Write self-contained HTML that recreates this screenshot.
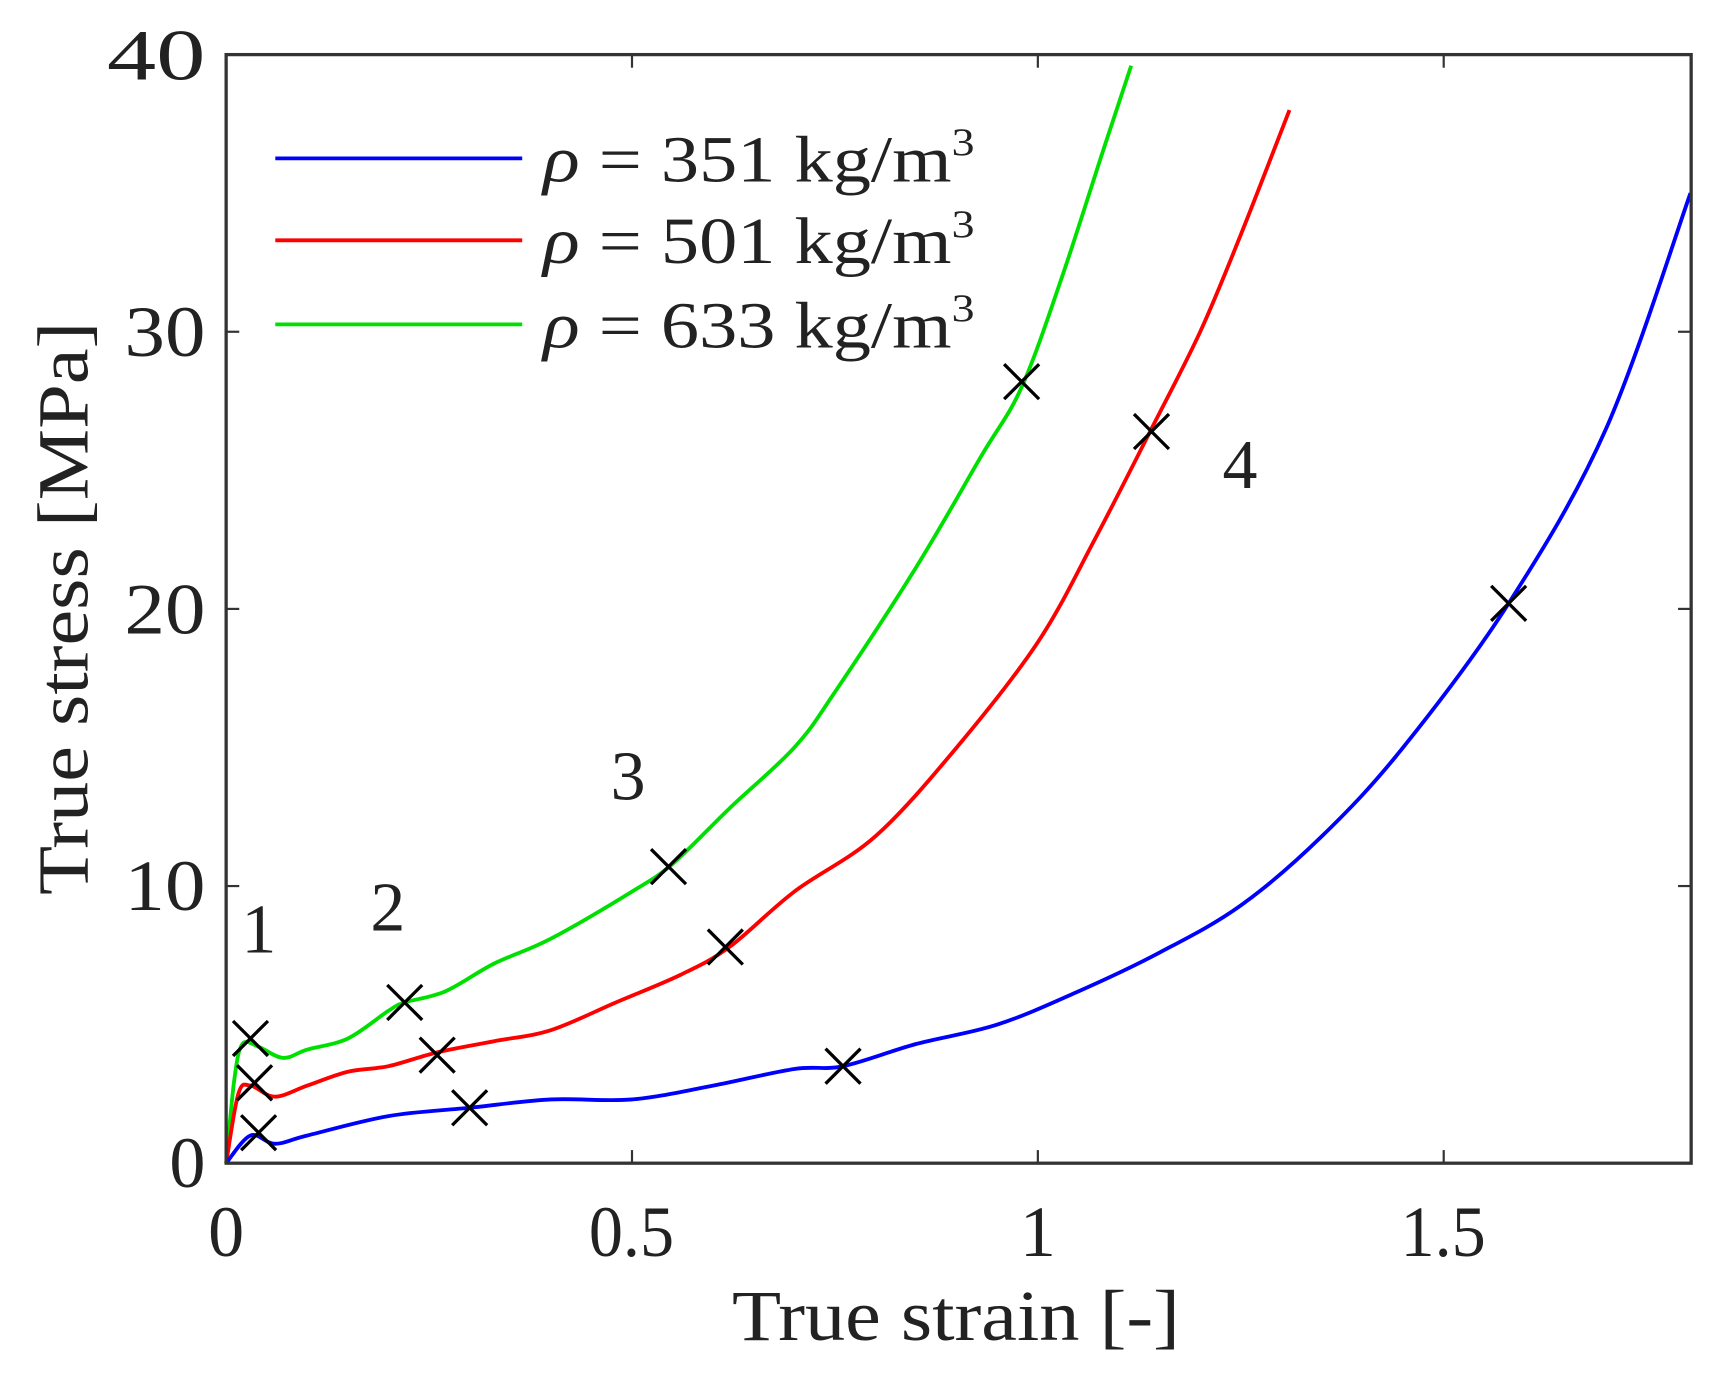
<!DOCTYPE html>
<html><head><meta charset="utf-8"><style>
html,body{margin:0;padding:0;background:#fff;}
svg{display:block;}
text{font-family:"Liberation Serif",serif;fill:#222;}
</style></head><body>
<svg id="s" width="1713" height="1386" viewBox="0 0 1568 1269" preserveAspectRatio="none" xmlns="http://www.w3.org/2000/svg">
<g id="ticks" stroke="#333" stroke-width="2"></g>
<g id="curves" fill="none" stroke-width="3.5" stroke-linejoin="round"></g>
<g id="marks" stroke="#000" stroke-width="3"></g>
<rect x="207" y="50" width="1341" height="1015" fill="none" stroke="#333" stroke-width="3"/>
<g font-size="66">
<text x="188" y="1087" text-anchor="end">0</text>
<text x="188" y="833" text-anchor="end" textLength="74" lengthAdjust="spacingAndGlyphs">10</text>
<text x="188" y="580" text-anchor="end" textLength="74" lengthAdjust="spacingAndGlyphs">20</text>
<text x="188" y="326" text-anchor="end" textLength="74" lengthAdjust="spacingAndGlyphs">30</text>
<text x="188" y="73" text-anchor="end" textLength="90" lengthAdjust="spacingAndGlyphs">40</text>
<text x="207" y="1150" text-anchor="middle">0</text>
<text x="578" y="1150" text-anchor="middle" textLength="78" lengthAdjust="spacingAndGlyphs">0.5</text>
<text x="950" y="1150" text-anchor="middle">1</text>
<text x="1321" y="1150" text-anchor="middle" textLength="78" lengthAdjust="spacingAndGlyphs">1.5</text>
</g>
<text x="875" y="1227" text-anchor="middle" font-size="66" textLength="410" lengthAdjust="spacingAndGlyphs">True strain [-]</text>
<text transform="translate(80,557) rotate(-90)" text-anchor="middle" font-size="66" textLength="525" lengthAdjust="spacingAndGlyphs">True stress [MPa]</text>
<g font-size="64">
<text x="237" y="872" text-anchor="middle">1</text>
<text x="355" y="852" text-anchor="middle">2</text>
<text x="575" y="732" text-anchor="middle">3</text>
<text x="1135" y="447" text-anchor="middle">4</text>
</g>
<g stroke-width="3.5">
<line x1="252" y1="145" x2="478" y2="145" stroke="#0000ff"/>
<line x1="252" y1="220" x2="478" y2="220" stroke="#ff0000"/>
<line x1="252" y1="297" x2="478" y2="297" stroke="#00e000"/>
</g>
<g font-size="60">
<text x="497" y="166" textLength="395" lengthAdjust="spacingAndGlyphs"><tspan font-style="italic">ρ</tspan> = 351 kg/m<tspan font-size="36" dy="-24">3</tspan></text>
<text x="497" y="241" textLength="395" lengthAdjust="spacingAndGlyphs"><tspan font-style="italic">ρ</tspan> = 501 kg/m<tspan font-size="36" dy="-24">3</tspan></text>
<text x="497" y="318" textLength="395" lengthAdjust="spacingAndGlyphs"><tspan font-style="italic">ρ</tspan> = 633 kg/m<tspan font-size="36" dy="-24">3</tspan></text>
</g>
</svg>
<script>
var X=function(x){return 207+x*743},Y=function(y){return 1065-y*25.375};
var ns="http://www.w3.org/2000/svg";
var data={
"#00e000":[[0,0],[0.01,3],[0.02,4.3],[0.04,4.2],[0.07,3.8],[0.1,4.1],[0.15,4.5],[0.2,5.5],[0.22,5.8],[0.27,6.2],[0.33,7.2],[0.4,8.1],[0.5,9.8],[0.55,10.8],[0.62,12.8],[0.7,15],[0.75,17],[0.85,21.5],[0.93,25.5],[0.98,28],[1.03,32],[1.08,36.5],[1.115,39.6]],
"#ff0000":[[0,0],[0.015,2.5],[0.03,2.8],[0.06,2.4],[0.1,2.8],[0.15,3.3],[0.2,3.5],[0.26,4],[0.33,4.4],[0.4,4.8],[0.48,5.8],[0.56,6.8],[0.62,7.8],[0.7,9.8],[0.8,11.8],[0.9,15],[1.0,18.8],[1.07,22.5],[1.14,26.5],[1.2,30],[1.25,33.5],[1.31,38]],
"#0000ff":[[0,0],[0.03,1],[0.06,0.7],[0.1,1],[0.2,1.7],[0.3,2],[0.4,2.3],[0.5,2.3],[0.6,2.8],[0.7,3.4],[0.76,3.5],[0.85,4.3],[0.95,5],[1.05,6.2],[1.15,7.6],[1.25,9.3],[1.35,11.8],[1.45,15],[1.58,20.2],[1.7,26.5],[1.804,35]]};
var g=document.getElementById("curves");
for(var c in data){var p=document.createElementNS(ns,"path");var d=data[c];
var s="M"+X(d[0][0])+","+Y(d[0][1]);
for(var i=1;i<d.length;i++){var p0=d[Math.max(i-2,0)],p1=d[i-1],p2=d[i],p3=d[Math.min(i+1,d.length-1)];
var c1x=X(p1[0])+(X(p2[0])-X(p0[0]))/6,c1y=Y(p1[1])+(Y(p2[1])-Y(p0[1]))/6,c2x=X(p2[0])-(X(p3[0])-X(p1[0]))/6,c2y=Y(p2[1])-(Y(p3[1])-Y(p1[1]))/6;
s+=" C"+c1x+","+c1y+" "+c2x+","+c2y+" "+X(p2[0])+","+Y(p2[1]);}
p.setAttribute("d",s);p.setAttribute("stroke",c);g.appendChild(p);}
var m=[[0.03,4.5],[0.22,5.8],[0.545,10.7],[0.98,28.2],[0.035,2.9],[0.26,3.9],[0.615,7.8],[1.14,26.4],[0.04,1.1],[0.30,2.0],[0.76,3.5],[1.58,20.2]];
var mg=document.getElementById("marks");
m.forEach(function(q){var x=X(q[0]),y=Y(q[1]),r=16;
[[x-r,y-r,x+r,y+r],[x-r,y+r,x+r,y-r]].forEach(function(l){var e=document.createElementNS(ns,"line");
e.setAttribute("x1",l[0]);e.setAttribute("y1",l[1]);e.setAttribute("x2",l[2]);e.setAttribute("y2",l[3]);mg.appendChild(e);});});
var tg=document.getElementById("ticks");
function ln(a,b,c,d){var e=document.createElementNS(ns,"line");e.setAttribute("x1",a);e.setAttribute("y1",b);e.setAttribute("x2",c);e.setAttribute("y2",d);tg.appendChild(e);}
[10,20,30].forEach(function(v){ln(207,Y(v),219,Y(v));ln(1548,Y(v),1536,Y(v));});
[0.5,1,1.5].forEach(function(v){ln(X(v),1065,X(v),1053);ln(X(v),50,X(v),62);});
</script>
</body></html>
